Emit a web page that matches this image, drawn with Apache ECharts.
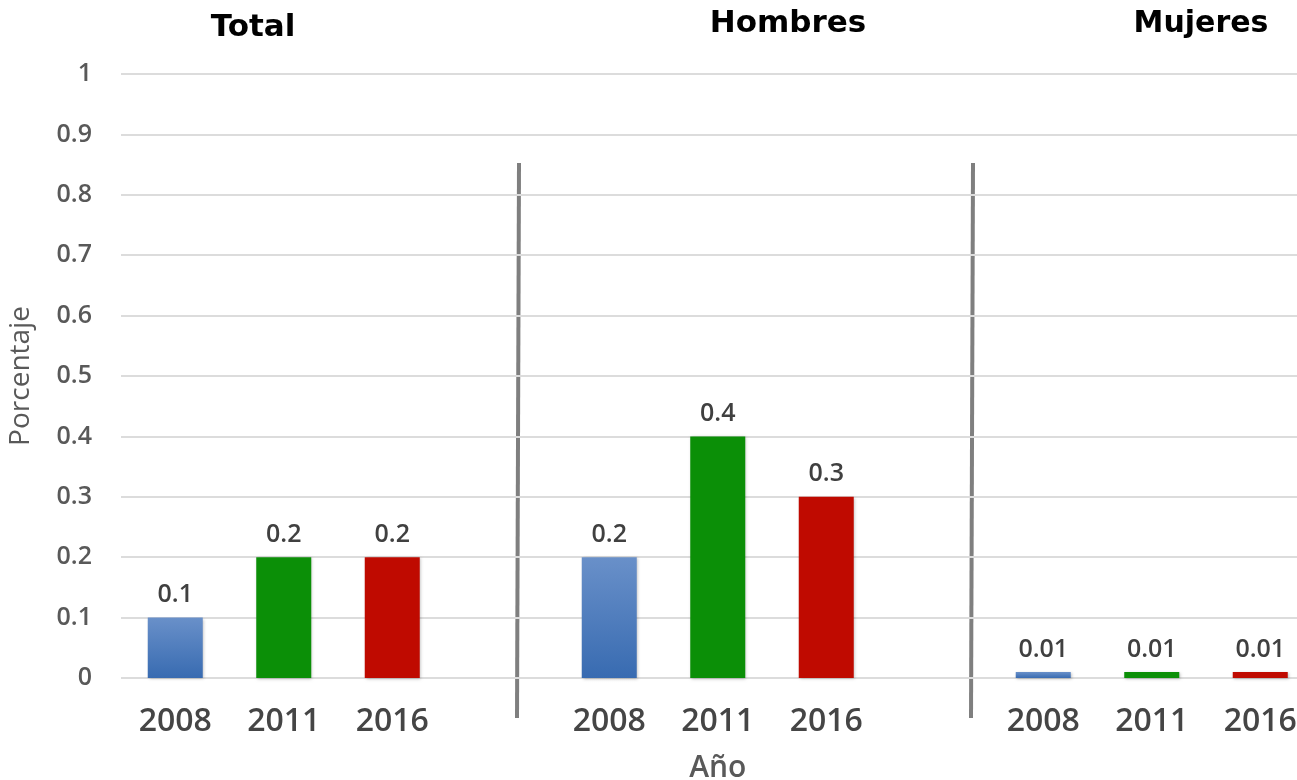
<!DOCTYPE html>
<html>
<head>
<meta charset="utf-8">
<script src="https://cdn.jsdelivr.net/npm/echarts@6/dist/echarts.min.js"></script>
<style>
html,body{margin:0;padding:0;background:#fff;}
#main{width:1297px;height:780px;}
</style>
</head>
<body>
<div id="main"></div>
<script>
// ---- data ----
var groups = ['Total', 'Hombres', 'Mujeres'];
var years = ['2008', '2011', '2016'];
var totalValues = [0.1, 0.2, 0.2];
var hombresValues = [0.2, 0.4, 0.3];
var mujeresValues = [0.01, 0.01, 0.01];
var yTicks = [0, 0.1, 0.2, 0.3, 0.4, 0.5, 0.6, 0.7, 0.8, 0.9, 1];
var yAxisTitle = 'Porcentaje';
var xAxisTitle = 'Año';

// ---- styling ----
var yearColors = [
  {type:'linear', x:0, y:0, x2:0, y2:1, colorStops:[{offset:0,color:'#6990c9'},{offset:1,color:'#386bb1'}]},
  '#0b8f07',
  '#bf0a00'
];

// build categories with a blank spacer between groups
var groupValues = [totalValues, hombresValues, mujeresValues];
var categories = [];
var seriesData = [];
groupValues.forEach(function(vals, gi){
  if (gi > 0) { categories.push(''); seriesData.push('-'); }
  vals.forEach(function(v, yi){
    categories.push(years[yi]);
    seriesData.push({value: v, itemStyle: {color: yearColors[yi]}});
  });
});

var chart = echarts.init(document.getElementById('main'), null, {renderer:'canvas'});
var titleX = [248, 783, 1196];
var titleY = [26, 22, 22];
var titleSize = [31, 31, 30];

var option = {
  animation: false,
  backgroundColor: '#ffffff',
  title: groups.map(function(g, i){
    return {
      text: g,
      left: titleX[i],
      top: titleY[i] - titleSize[i]*0.6,
      textAlign: 'center',
      textStyle: {fontFamily:'DejaVu Sans', fontWeight:'bold', fontSize:titleSize[i], color:'#000'}
    };
  }),
  grid: {left: 121, top: 74, width: 1193.5, height: 604, containLabel: false, outerBoundsMode: 'none'},
  xAxis: {
    type: 'category',
    data: categories,
    axisLine: {show: false},
    axisTick: {show: false},
    axisLabel: {
      interval: 0,
      margin: 28,
      fontFamily: 'Open Sans',
      fontWeight: 600,
      fontSize: 32,
      color: '#454545'
    },
    name: xAxisTitle,
    nameLocation: 'middle',
    nameGap: 75,
    nameTextStyle: {fontFamily:'Open Sans', fontWeight:600, fontSize:30, color:'#595959'}
  },
  yAxis: {
    type: 'value',
    min: yTicks[0],
    max: yTicks[yTicks.length-1],
    interval: 0.1,
    axisLine: {show: false},
    axisTick: {show: false},
    splitLine: {lineStyle: {color: '#dcdcdc', width: 2}},
    axisLabel: {
      margin: 29,
      fontFamily: 'Open Sans',
      fontWeight: 600,
      fontSize: 25,
      color: '#595959',
      formatter: function(v){ return String(Math.round(v*10)/10); }
    },
    name: yAxisTitle,
    nameLocation: 'middle',
    nameRotate: 90,
    nameGap: 86,
    nameTextStyle: {fontFamily:'Open Sans', fontSize:28, color:'#595959'}
  },
  series: [{
    type: 'bar',
    data: seriesData,
    barWidth: 55,
    itemStyle: {shadowBlur: 3, shadowColor: 'rgba(0,0,0,0.25)', shadowOffsetX: 1, shadowOffsetY: 1},
    label: {
      show: true,
      position: 'top',
      distance: 10,
      fontFamily: 'Open Sans',
      fontWeight: 600,
      fontSize: 25,
      color: '#404040'
    }
  }],
  graphic: [
    {type:'line', shape:{x1:519, y1:163, x2:517, y2:718}, style:{stroke:'#7f7f7f', lineWidth:4}},
    {type:'line', shape:{x1:973, y1:163, x2:971, y2:718}, style:{stroke:'#7f7f7f', lineWidth:4}}
  ]
};
chart.setOption(option);
</script>
</body>
</html>
